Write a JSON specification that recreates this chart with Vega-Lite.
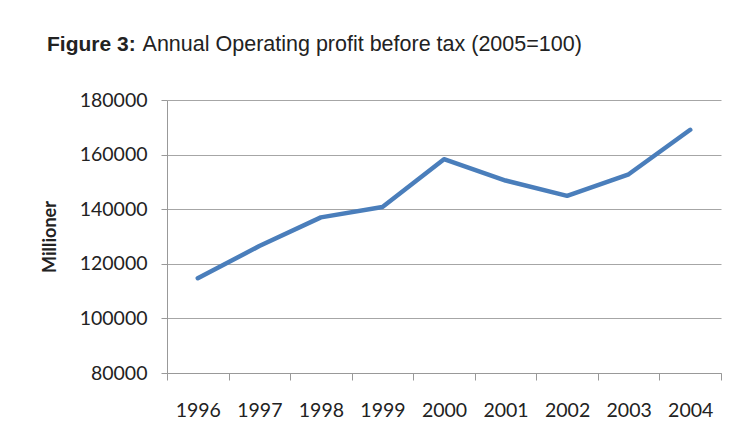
{
  "$schema": "https://vega.github.io/schema/vega-lite/v6.json",
  "autosize": {"type": "none"},
  "width": 554,
  "height": 273,
  "padding": {"left": 167, "top": 100, "right": 12, "bottom": 67},
  "background": "white",
  "title": {
    "text": "Figure 3:",
    "subtitle": "\u200b\u00a0\u00a0\u00a0\u00a0\u00a0\u00a0\u00a0\u00a0\u00a0\u00a0\u00a0\u00a0\u00a0\u00a0\u00a0\u00a0Annual Operating profit before tax (2005=100)",
    "anchor": "start",
    "frame": "group",
    "dx": -120,
    "offset": 35,
    "font": "Liberation Sans",
    "fontSize": 21,
    "fontWeight": "bold",
    "color": "#222222",
    "subtitleFont": "Liberation Sans",
    "subtitleFontSize": 21.5,
    "subtitleFontWeight": "normal",
    "subtitleColor": "#222222",
    "subtitlePadding": -21
  },
  "data": {
    "values": [
      {"year": "1996", "value": 114700},
      {"year": "1997", "value": 126500},
      {"year": "1998", "value": 137000},
      {"year": "1999", "value": 140800},
      {"year": "2000", "value": 158300},
      {"year": "2001", "value": 150500},
      {"year": "2002", "value": 144900},
      {"year": "2003", "value": 152800},
      {"year": "2004", "value": 169100}
    ]
  },
  "mark": {"type": "line", "color": "#4a7ebb", "strokeWidth": 4.5, "strokeCap": "round", "strokeJoin": "round"},
  "encoding": {
    "x": {
      "field": "year",
      "type": "ordinal",
      "bandPosition": 0.5,
      "scale": {"type": "band", "paddingInner": 0, "paddingOuter": 0},
      "axis": {
        "title": null,
        "labelAngle": 0,
        "tickBand": "extent",
        "domainColor": "#999999",
        "tickColor": "#999999",
        "tickSize": 7,
        "labelPadding": 21,
        "labelFont": "Lato",
        "labelFontSize": 19.5,
        "labelColor": "#222222",
        "grid": false
      }
    },
    "y": {
      "field": "value",
      "type": "quantitative",
      "scale": {"domain": [80000, 180000], "nice": false, "zero": false},
      "axis": {
        "values": [80000, 100000, 120000, 140000, 160000, 180000],
        "format": "d",
        "title": "Millioner",
        "titleFont": "Lato",
        "titleFontSize": 18,
        "titleFontWeight": "bold",
        "titleColor": "#222222",
        "titlePadding": 20,
        "labelFont": "Lato",
        "labelFontSize": 19.5,
        "labelColor": "#222222",
        "labelPadding": 14,
        "tickSize": 6,
        "tickColor": "#999999",
        "domainColor": "#999999",
        "gridColor": "#a6a6a6",
        "gridWidth": 1
      }
    }
  },
  "config": {"view": {"stroke": null}}
}
